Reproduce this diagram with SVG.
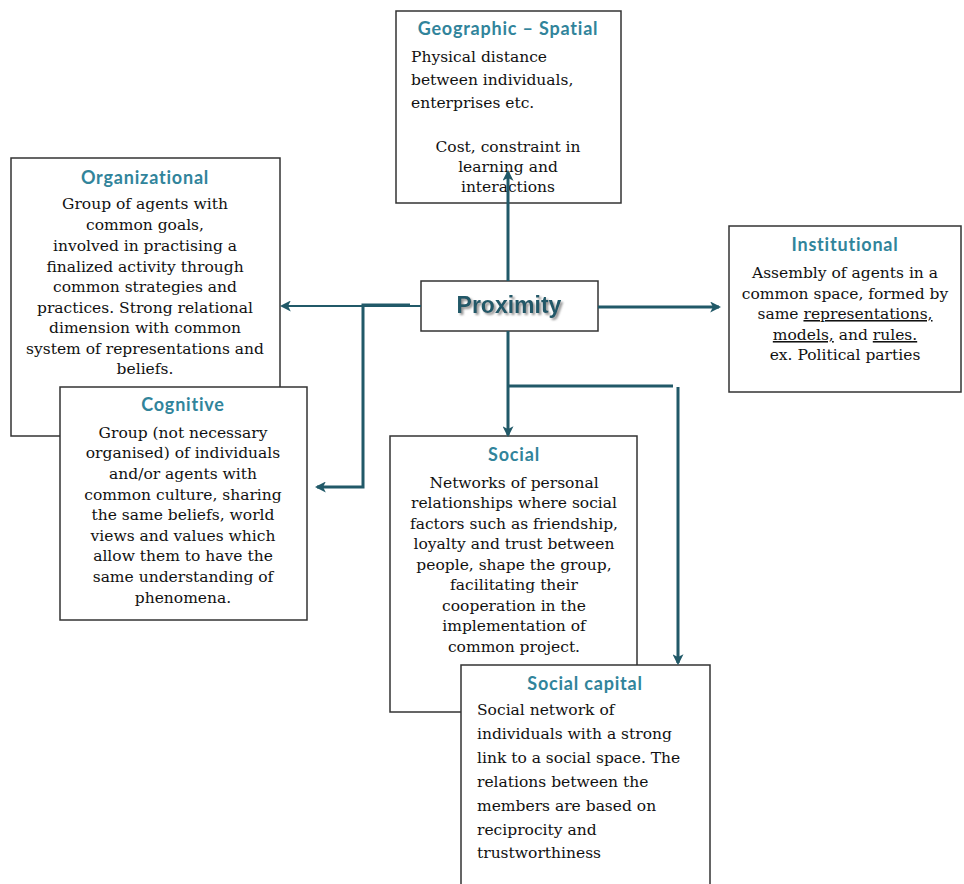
<svg xmlns="http://www.w3.org/2000/svg" width="964" height="884" viewBox="0 0 964 884">
<style>
.box{fill:#fff;stroke:#333;stroke-width:1.5}
.ttl{font-family:Lato,"Liberation Sans",sans-serif;font-weight:bold;font-size:18px;letter-spacing:0.8px;fill:#31849B;text-anchor:middle}
.bd{font-family:"DejaVu Serif","Liberation Serif",serif;font-size:15.5px;fill:#111}
.c{text-anchor:middle}
.ln{fill:none;stroke:#215968;stroke-width:3}
.thin{stroke-width:2}
.u{text-decoration:underline}
</style>
<defs>
<marker id="ah" viewBox="0 0 10 10" refX="8" refY="5" markerWidth="11" markerHeight="11" markerUnits="userSpaceOnUse" orient="auto">
<path d="M0,0 L10,5 L0,10 L2.5,5 z" fill="#215968"/>
</marker>
<filter id="sh" x="-10%" y="-30%" width="120%" height="160%">
<feDropShadow dx="2" dy="2" stdDeviation="0.8" flood-color="#888" flood-opacity="0.9"/>
</filter>
</defs>
<rect width="964" height="884" fill="#fff"/>

<g id="geographic">
<rect class="box" x="396" y="11" width="225" height="192"/>
<text class="ttl" x="508" y="35">Geographic – Spatial</text>
<text class="bd" x="411" y="62">Physical distance</text>
<text class="bd" x="411" y="85">between individuals,</text>
<text class="bd" x="411" y="108">enterprises etc.</text>
<text class="bd c" x="508" y="152">Cost, constraint in</text>
<text class="bd c" x="508" y="172">learning and</text>
<text class="bd c" x="508" y="192">interactions</text>
</g>

<g id="organizational">
<rect class="box" x="11" y="158" width="269" height="278"/>
<text class="ttl" x="145" y="184">Organizational</text>
<text class="bd c" x="145" y="209">Group of agents with</text>
<text class="bd c" x="145" y="230">common goals,</text>
<text class="bd c" x="145" y="251">involved in practising a</text>
<text class="bd c" x="145" y="272">finalized activity through</text>
<text class="bd c" x="145" y="292">common strategies and</text>
<text class="bd c" x="145" y="313">practices. Strong relational</text>
<text class="bd c" x="145" y="333">dimension with common</text>
<text class="bd c" x="145" y="354">system of representations and</text>
<text class="bd c" x="145" y="374">beliefs.</text>
</g>

<g id="institutional">
<rect class="box" x="729" y="226" width="232" height="166"/>
<text class="ttl" x="845" y="251">Institutional</text>
<text class="bd c" x="845" y="278">Assembly of agents in a</text>
<text class="bd c" x="845" y="299">common space, formed by</text>
<text class="bd c" x="845" y="319">same <tspan class="u">representations,</tspan></text>
<text class="bd c" x="845" y="340"><tspan class="u">models,</tspan> and <tspan class="u">rules.</tspan></text>
<text class="bd c" x="845" y="360">ex. Political parties</text>
</g>

<g id="proximity">
<rect class="box" x="421" y="281" width="177" height="50"/>
<text x="509" y="313" font-family="'Liberation Sans',Arial,sans-serif" font-weight="bold" font-size="23" fill="#215968" text-anchor="middle" filter="url(#sh)">Proximity</text>
</g>

<g id="cognitive">
<rect class="box" x="60" y="387" width="247" height="233"/>
<text class="ttl" x="183" y="411">Cognitive</text>
<text class="bd c" x="183" y="438">Group (not necessary</text>
<text class="bd c" x="183" y="458">organised) of individuals</text>
<text class="bd c" x="183" y="479">and/or agents with</text>
<text class="bd c" x="183" y="500">common culture, sharing</text>
<text class="bd c" x="183" y="520">the same beliefs, world</text>
<text class="bd c" x="183" y="541">views and values which</text>
<text class="bd c" x="183" y="561">allow them to have the</text>
<text class="bd c" x="183" y="582">same understanding of</text>
<text class="bd c" x="183" y="603">phenomena.</text>
</g>

<g id="social">
<rect class="box" x="390" y="436" width="247" height="276"/>
<text class="ttl" x="514" y="461">Social</text>
<text class="bd c" x="514" y="488">Networks of personal</text>
<text class="bd c" x="514" y="508">relationships where social</text>
<text class="bd c" x="514" y="529">factors such as friendship,</text>
<text class="bd c" x="514" y="549">loyalty and trust between</text>
<text class="bd c" x="514" y="570">people, shape the group,</text>
<text class="bd c" x="514" y="590">facilitating their</text>
<text class="bd c" x="514" y="611">cooperation in the</text>
<text class="bd c" x="514" y="631">implementation of</text>
<text class="bd c" x="514" y="652">common project.</text>
</g>

<g id="social-capital">
<rect class="box" x="461" y="665" width="249" height="230"/>
<text class="ttl" x="585" y="690">Social capital</text>
<text class="bd" x="477" y="715">Social network of</text>
<text class="bd" x="477" y="739">individuals with a strong</text>
<text class="bd" x="477" y="763">link to a social space. The</text>
<text class="bd" x="477" y="787">relations between the</text>
<text class="bd" x="477" y="811">members are based on</text>
<text class="bd" x="477" y="835">reciprocity and</text>
<text class="bd" x="477" y="858">trustworthiness</text>
</g>

<g id="connectors">
<path class="ln" d="M508,281 V172" marker-end="url(#ah)"/>
<path class="ln thin" d="M421,306 H282" marker-end="url(#ah)"/>
<path class="ln" d="M410,305 H363 V487 H317" marker-end="url(#ah)"/>
<path class="ln" d="M598,307 H719" marker-end="url(#ah)"/>
<path class="ln" d="M508,331 V435" marker-end="url(#ah)"/>
<path class="ln" d="M508,386 H673"/>
<path class="ln" d="M678,387 V663" marker-end="url(#ah)"/>
</g>
</svg>
